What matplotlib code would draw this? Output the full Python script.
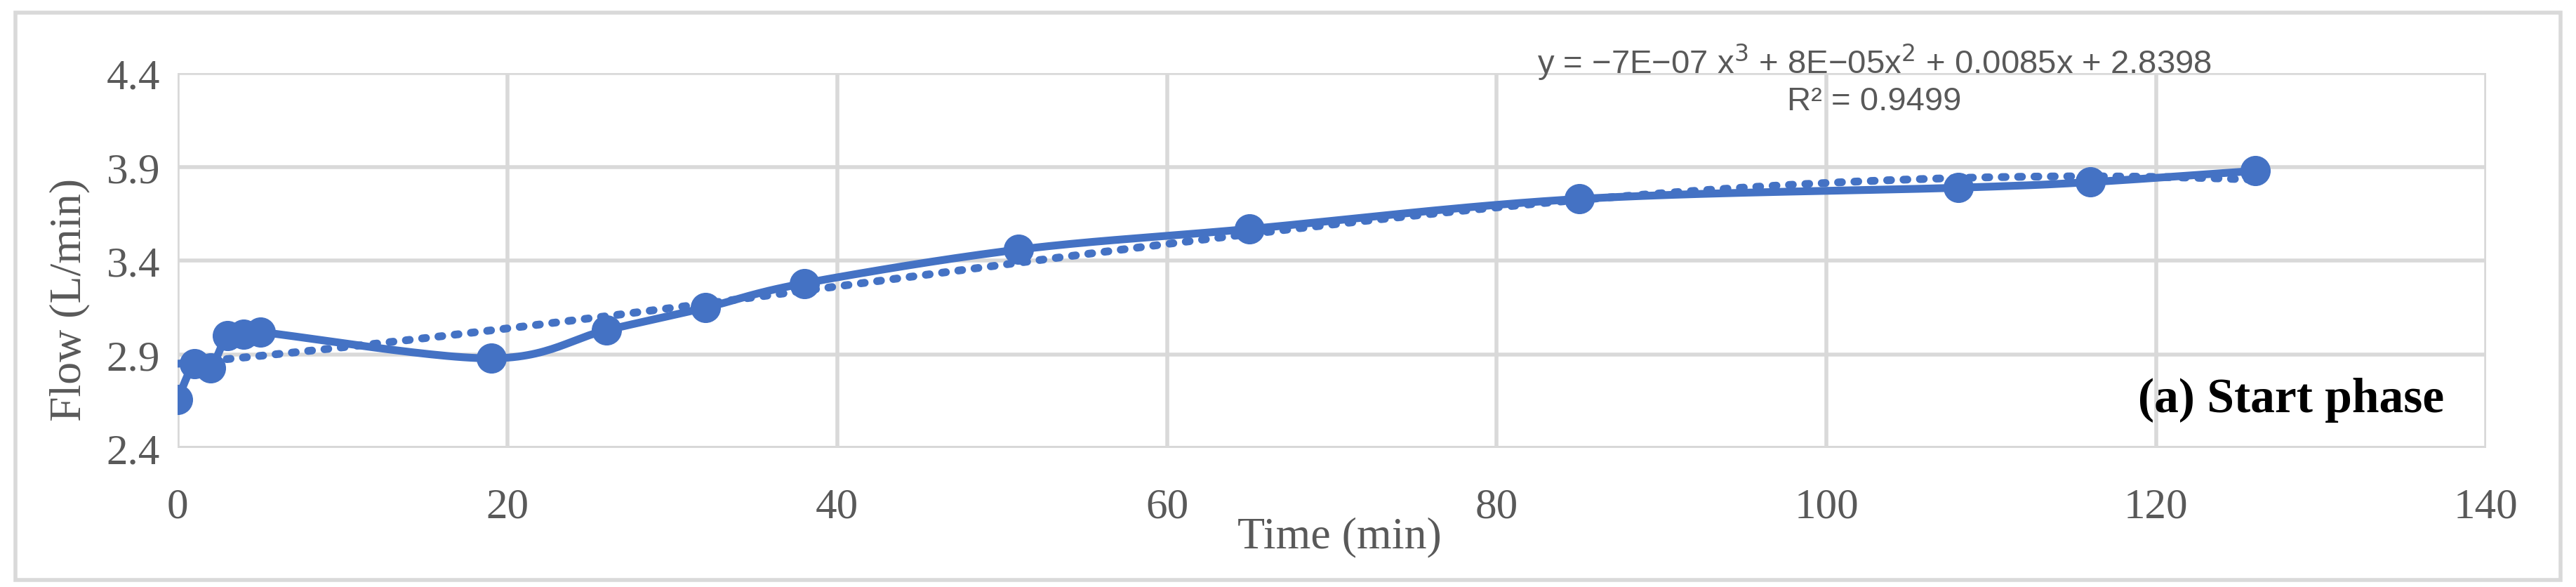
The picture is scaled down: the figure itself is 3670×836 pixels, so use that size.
import numpy as np
import matplotlib
matplotlib.use("Agg")
import matplotlib.pyplot as plt
from matplotlib.patches import Rectangle

time_min = [0, 1, 2, 3, 4, 5, 19, 26, 32, 38, 51, 65, 85, 108, 116, 126]
flow = [2.66, 2.85, 2.83, 3.00, 3.01, 3.02, 2.88, 3.03, 3.15, 3.28, 3.46, 3.57, 3.73, 3.79, 3.82, 3.88]
xticks = [0, 20, 40, 60, 80, 100, 120, 140]
yticks = [2.4, 2.9, 3.4, 3.9, 4.4]
blue = "#4472C4"

def catmull(x, y, n=30):
    x = np.asarray(x, float); y = np.asarray(y, float)
    P = np.column_stack([x, y])
    P = np.vstack([P[0], P, P[-1]])
    out = []
    for i in range(1, len(P) - 2):
        p0, p1, p2, p3 = P[i-1], P[i], P[i+1], P[i+2]
        t = np.linspace(0, 1, n)[:, None]
        pts = 0.5 * ((2*p1) + (-p0 + p2)*t + (2*p0 - 5*p1 + 4*p2 - p3)*t**2 + (-p0 + 3*p1 - 3*p2 + p3)*t**3)
        out.append(pts)
    out = np.vstack(out)
    return out[:, 0], out[:, 1]

fig = plt.figure(figsize=(36.7, 8.37), dpi=100)
fig.patches.append(Rectangle((0.006, 0.012), 0.988, 0.965, transform=fig.transFigure,
                             fill=False, edgecolor="#d9d9d9", linewidth=4))
ax = fig.add_axes([0.069, 0.236, 0.896, 0.638])

sx, sy = catmull(time_min, flow)
ax.plot(sx, sy, color=blue, linewidth=8, zorder=3)
ax.plot(time_min, flow, 'o', color=blue, markersize=30, zorder=4)

coef = np.polyfit(time_min, flow, 3)
tx = np.linspace(min(time_min), max(time_min), 300)
ax.plot(tx, np.polyval(coef, tx), color=blue, linewidth=8, linestyle=(0, (0.5, 1.6)),
        dash_capstyle='round', zorder=2)

ax.set_xlim(0, 140); ax.set_ylim(2.4, 4.4)
ax.set_xticks(xticks); ax.set_yticks(yticks)
ax.set_yticklabels([f"{v:.1f}" for v in yticks])
ax.grid(True, color="#d9d9d9", linewidth=4)
for s in ax.spines.values():
    s.set_visible(False)
ax.axhline(2.4, color="#bfbfbf", linewidth=4, zorder=1)
ax.tick_params(length=0, labelsize=44, colors="#595959")
ax.tick_params(axis='x', pad=40)
ax.tick_params(axis='y', pad=18)
for lab in ax.get_xticklabels() + ax.get_yticklabels():
    lab.set_fontfamily("Liberation Serif")
fig.text(0.52, 0.085, "Time (min)", ha="center", va="center", fontsize=46,
         family="Liberation Serif", color="#595959")
fig.text(0.027, 0.49, "Flow (L/min)", ha="center", va="center", rotation=90, fontsize=46,
         family="Liberation Serif", color="#595959")

ax.text(0.735, 0.985, "y = \u22127E\u221207 x$^3$ + 8E\u221205x$^2$ + 0.0085x + 2.8398\nR\u00b2 = 0.9499",
        transform=ax.transAxes, ha="center", va="center", fontsize=34, color="#595959",
        family="Liberation Sans", linespacing=1.2)
ax.text(0.982, 0.13, "(a) Start phase", transform=ax.transAxes, ha="right", va="center",
        fontsize=50, fontweight="bold", family="Liberation Serif", color="black")

fig.savefig("out.png", dpi=100)
